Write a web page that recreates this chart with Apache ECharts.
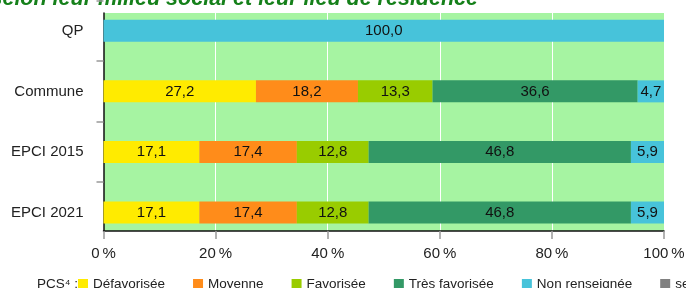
<!DOCTYPE html>
<html>
<head>
<meta charset="utf-8">
<script src="https://cdn.jsdelivr.net/npm/echarts@6/dist/echarts.min.js"></script>
<style>
html, body { margin: 0; padding: 0; background: #fff; }
#main { width: 686px; height: 288px; }
</style>
</head>
<body>
<div id="main"></div>
<script>
// categories, top to bottom as in the picture
const categories = ['QP', 'Commune', 'EPCI 2015', 'EPCI 2021'];
// share of each PCS group (%), same order as categories
const defavorisee = [null, 27.2, 17.1, 17.1];
const moyenne = [null, 18.2, 17.4, 17.4];
const favorisee = [null, 13.3, 12.8, 12.8];
const tresFavorisee = [null, 36.6, 46.8, 46.8];
const nonRenseignee = [100.0, 4.7, 5.9, 5.9];
const secretStat = [null, null, null, null];
const seriesNames = ['Défavorisée', 'Moyenne', 'Favorisée', 'Très favorisée', 'Non renseignée', 'secret statistique'];
const seriesColors = ['#ffeb00', '#ff8c1a', '#99cc00', '#339966', '#47c3da', '#808080'];
const xTicks = [0, 20, 40, 60, 80, 100];

const FONT = 'Liberation Sans, Arial, sans-serif';
// category axis runs bottom -> top, so reverse
const rev = a => a.slice().reverse();
const seriesData = [defavorisee, moyenne, favorisee, tresFavorisee, nonRenseignee, secretStat];

let series = seriesNames.map((name, i) => ({
	name: name,
	type: 'bar',
	stack: 'pcs',
	xAxisIndex: 0,
	yAxisIndex: 0,
	barWidth: 22,
	itemStyle: { color: seriesColors[i] },
	label: {
		show: true,
		position: 'inside',
		color: '#111',
		fontSize: 15,
		fontFamily: FONT,
		formatter: p => (p.value == null ? '' : p.value.toFixed(1).replace('.', ','))
	},
	data: rev(seriesData[i])
}));

let options = {
	animation: false,
	textStyle: { fontFamily: FONT },
	color: seriesColors,
	grid: [
		{ // bars
			left: 103.5, right: 22, top: 0.5, bottom: 45.2,
			outerBoundsMode: 'none', containLabel: false
		},
		{ // green plot background + x axis
			left: 103.5, right: 22, top: 13, bottom: 57,
			show: true, backgroundColor: '#a6f4a2', borderWidth: 0,
			outerBoundsMode: 'none', containLabel: false
		}
	],
	xAxis: [
		{ gridIndex: 0, type: 'value', min: 0, max: 100, show: false },
		{
			gridIndex: 1, type: 'value', min: xTicks[0], max: xTicks[xTicks.length - 1], interval: 20,
			axisLine: { show: true, lineStyle: { color: '#111', width: 1.5 } },
			axisTick: { show: true, length: 8, lineStyle: { color: '#999', width: 1.5 } },
			splitLine: { show: true, lineStyle: { color: '#ffffff', width: 1 } },
			axisLabel: {
				margin: 15, color: '#222', fontSize: 15, fontFamily: FONT,
				formatter: v => v + '\u202f%'
			}
		}
	],
	yAxis: [
		{
			gridIndex: 0, type: 'category', data: rev(categories),
			axisLine: { show: false },
			axisTick: {
				show: true, length: 7,
				interval: (i) => i > 0,
				lineStyle: { color: '#999', width: 1.5 }
			},
			axisLabel: { interval: 0, margin: 20, color: '#222', fontSize: 15, fontFamily: FONT },
			splitLine: { show: false }
		},
		{
			gridIndex: 1, type: 'value', min: 0, max: 1,
			axisLine: { show: true, lineStyle: { color: '#111', width: 1.5 } },
			axisTick: { show: false },
			axisLabel: { show: false },
			splitLine: { show: false }
		}
	],
	legend: {
		left: 78, top: 277, width: 1200, padding: 0,
		icon: 'rect', itemWidth: 10, itemHeight: 10, itemGap: 28,
		textStyle: { fontSize: 13.5, color: '#222', fontFamily: FONT },
		data: seriesNames
	},
	graphic: [
		{
			type: 'text', right: 208, top: -11.8,
			style: {
				text: 'Répartition des habitants selon leur milieu social et leur lieu de résidence',
				fill: '#15801a', fontSize: 21.5, fontWeight: 'bold', fontStyle: 'italic', fontFamily: FONT
			}
		},
		{
			type: 'text', left: 37, top: 277,
			style: { text: 'PCS\u2074 :', fill: '#222', fontSize: 13.5, fontFamily: FONT }
		}
	],
	series: series
};

let myChart = echarts.init(document.getElementById('main'));
myChart.setOption(options);
</script>
</body>
</html>
